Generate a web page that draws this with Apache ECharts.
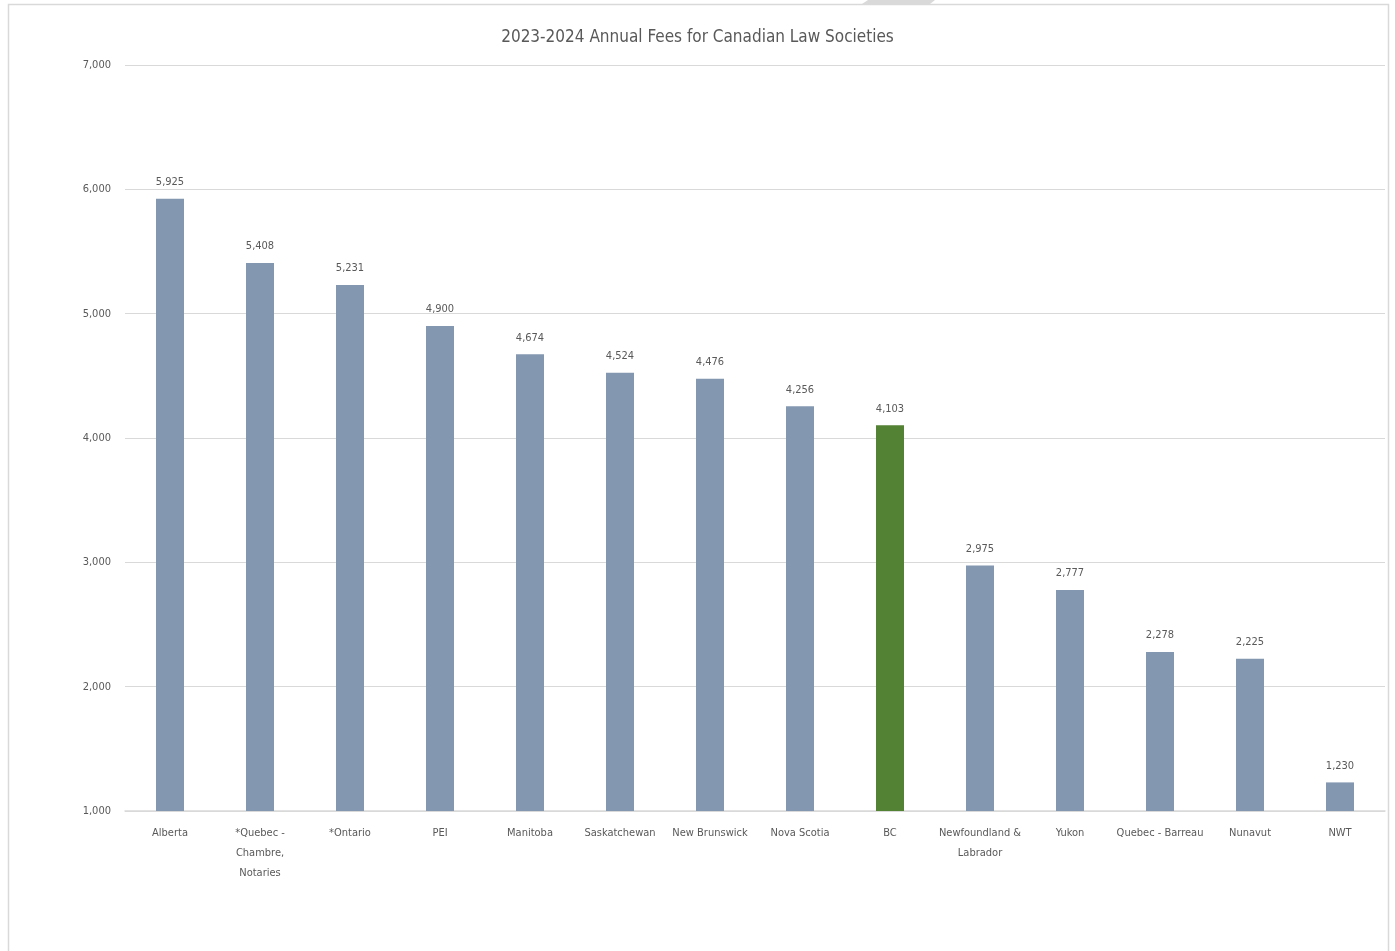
<!DOCTYPE html>
<html>
<head>
<meta charset="utf-8">
<script src="https://cdn.jsdelivr.net/npm/echarts@6/dist/echarts.min.js"></script>
<style>
  html, body { margin: 0; padding: 0; background: #ffffff; }
  #chart { width: 1395px; height: 951px; }
</style>
</head>
<body>
<div id="chart"></div>
<script>
// Annual fees by law society, 2023-2024
const societies = [
  'Alberta', '*Quebec -\nChambre,\nNotaries', '*Ontario', 'PEI', 'Manitoba',
  'Saskatchewan', 'New Brunswick', 'Nova Scotia', 'BC',
  'Newfoundland &\nLabrador', 'Yukon', 'Quebec - Barreau', 'Nunavut', 'NWT'
];
const fees = [5925, 5408, 5231, 4900, 4674, 4524, 4476, 4256, 4103, 2975, 2777, 2278, 2225, 1230];
const highlighted = 'BC';

const FONT = '"DejaVu Sans Condensed", "Liberation Sans Narrow", sans-serif';
const TEXT = '#595959';
const BAR = '#8497b0';
const BAR_HI = '#548235';

const chart = echarts.init(document.getElementById('chart'), null, { renderer: 'canvas' });

chart.setOption({
  animation: false,
  backgroundColor: '#ffffff',
  title: {
    text: '2023-2024 Annual Fees for Canadian Law Societies',
    left: 'center',
    top: 24,
    textStyle: { fontFamily: FONT, fontSize: 17, fontWeight: 'normal', color: TEXT }
  },
  graphic: [
    {
      type: 'rect',
      shape: { x: 8.5, y: 4.5, width: 1380, height: 960 },
      style: { fill: 'none', stroke: '#d9d9d9', lineWidth: 1.5 },
      silent: true
    },
    {
      type: 'polygon',
      shape: { points: [[868, 0], [935, 0], [930, 4], [862, 4]] },
      style: { fill: '#d9d9d9' },
      silent: true
    }
  ],
  grid: { left: 125, right: 10, top: 65, bottom: 140, containLabel: false },
  xAxis: {
    type: 'category',
    data: societies,
    axisLine: { show: true, lineStyle: { color: '#d9d9d9', width: 1.5 } },
    axisTick: { show: false },
    axisLabel: {
      interval: 0,
      margin: 12,
      fontFamily: FONT,
      fontSize: 11,
      color: TEXT,
      lineHeight: 20,
      align: 'center'
    }
  },
  yAxis: {
    type: 'value',
    min: 1000,
    max: 7000,
    interval: 1000,
    axisLine: { show: false },
    axisTick: { show: false },
    splitLine: { lineStyle: { color: '#d9d9d9', width: 1.2 } },
    axisLabel: {
      margin: 14,
      fontFamily: FONT,
      fontSize: 11,
      color: TEXT,
      formatter: v => v.toLocaleString('en-US')
    }
  },
  series: [{
    type: 'bar',
    barWidth: 28,
    data: fees.map((v, i) => ({
      value: v,
      itemStyle: { color: societies[i] === highlighted ? BAR_HI : BAR }
    })),
    label: {
      show: true,
      position: 'top',
      distance: 11,
      fontFamily: FONT,
      fontSize: 11,
      color: TEXT,
      formatter: p => p.value.toLocaleString('en-US')
    }
  }]
});
</script>
</body>
</html>
